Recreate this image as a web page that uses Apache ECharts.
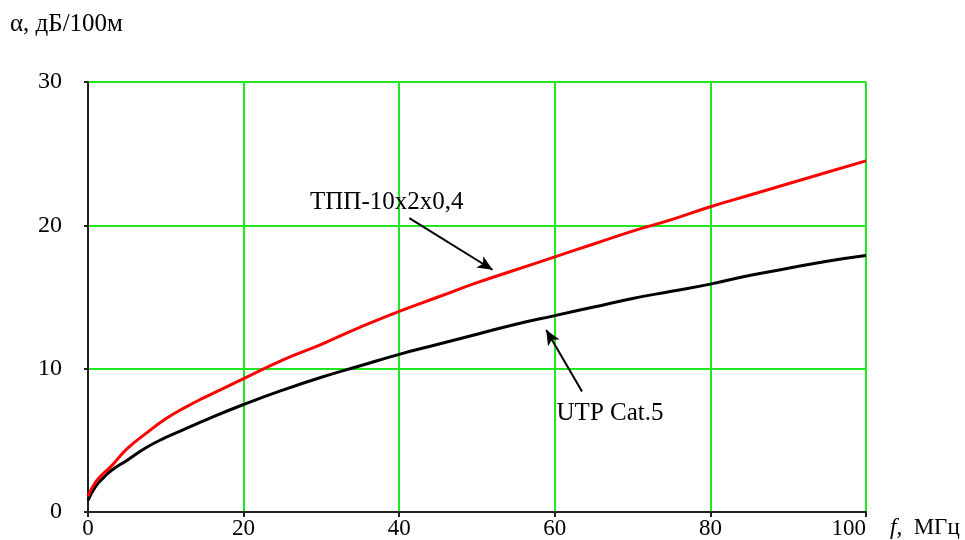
<!DOCTYPE html>
<html>
<head>
<meta charset="utf-8">
<script src="https://cdn.jsdelivr.net/npm/echarts@6/dist/echarts.min.js"></script>
<style>
  html, body { margin: 0; padding: 0; background: #fff; }
  #chart { width: 965px; height: 540px; }
</style>
</head>
<body>
<div id="chart"></div>
<script>
// Frequency, MHz
const freq = [0, 1, 2, 3, 5, 7.5, 10, 12.5, 15, 20, 25, 30, 35, 40, 45, 50, 55, 60, 65, 70, 75, 80, 85, 90, 95, 100];
// Attenuation, dB/100 m
const tppValues = [1.1, 2.1, 2.7, 3.2, 4.4, 5.5, 6.5, 7.3, 8.0, 9.3, 10.6, 11.7, 12.9, 14.0, 15.0, 16.0, 16.9, 17.8, 18.7, 19.6, 20.4, 21.3, 22.1, 22.9, 23.7, 24.5];
const utpValues = [0.8, 1.8, 2.4, 2.9, 3.6, 4.5, 5.2, 5.8, 6.4, 7.5, 8.5, 9.4, 10.2, 11.0, 11.7, 12.4, 13.1, 13.7, 14.3, 14.9, 15.4, 15.9, 16.5, 17.0, 17.5, 17.9];
const xTicks = [0, 20, 40, 60, 80, 100];
const yTicks = [0, 10, 20, 30];

// Callout text and arrows (in data coordinates)
const tppLabel = { text: 'ТПП-10x2x0,4', at: [38.4, 21.6], from: [41.3, 20.5], to: [52.0, 16.9] };
const utpLabel = { text: 'UTP Cat.5', at: [67.1, 6.9], from: [63.5, 8.4], to: [58.9, 12.7] };

const serif = '"Liberation Serif", "DejaVu Serif", serif';
const gridGreen = '#1ee81e';

const pairs = (ys) => freq.map((f, i) => [f, ys[i]]);

function callout(c) {
  return {
    markLine: {
      silent: true,
      symbol: ['none', 'arrow'],
      symbolSize: [10, 15],
      itemStyle: { color: '#000' },
      lineStyle: { color: '#000', width: 2, type: 'solid' },
      label: { show: false },
      data: [[{ coord: c.from }, { coord: c.to }]]
    },
    markPoint: {
      silent: true,
      symbol: 'circle',
      symbolSize: 0,
      label: {
        show: true, position: 'inside', formatter: c.text,
        color: '#000', fontFamily: serif, fontSize: 25
      },
      data: [{ coord: c.at }]
    }
  };
}

const chart = echarts.init(document.getElementById('chart'), null, { renderer: 'canvas' });
chart.setOption({
  backgroundColor: '#fff',
  animation: false,
  grid: { left: 88, right: 99, top: 82, bottom: 25 },
  xAxis: {
    type: 'value', min: xTicks[0], max: xTicks[xTicks.length - 1], interval: 20,
    axisLine: { show: true, onZero: false, lineStyle: { color: '#222', width: 2 } },
    axisTick: { show: true, length: 5, lineStyle: { color: '#222', width: 2 } },
    axisLabel: { color: '#000', fontFamily: serif, fontSize: 23, margin: 5, alignMaxLabel: 'right' },
    splitLine: { show: true, lineStyle: { color: gridGreen, width: 2 } }
  },
  yAxis: {
    type: 'value', min: yTicks[0], max: yTicks[yTicks.length - 1], interval: 10,
    axisLine: { show: true, onZero: false, lineStyle: { color: '#222', width: 2 } },
    axisTick: { show: true, length: 4, lineStyle: { color: '#222', width: 2 } },
    axisLabel: { color: '#000', fontFamily: serif, fontSize: 24, margin: 26 },
    splitLine: { show: true, lineStyle: { color: gridGreen, width: 2 } }
  },
  graphic: [
    {
      type: 'text', left: 10, top: 12,
      style: { text: 'α, дБ/100м', fill: '#000', font: '25px ' + serif }
    },
    {
      type: 'text', left: 890, top: 516,
      style: {
        text: '{i|f,}  МГц', fill: '#000', font: '23px ' + serif,
        rich: { i: { fontStyle: 'italic', fontFamily: serif, fontSize: 23 } }
      }
    }
  ],
  series: [
    Object.assign({
      name: 'ТПП-10x2x0,4', type: 'line', data: pairs(tppValues),
      showSymbol: false, smooth: 0.5,
      lineStyle: { color: '#ff0000', width: 3 }, z: 3
    }, callout(tppLabel)),
    Object.assign({
      name: 'UTP Cat.5', type: 'line', data: pairs(utpValues),
      showSymbol: false, smooth: 0.5,
      lineStyle: { color: '#000000', width: 3 }, z: 2
    }, callout(utpLabel))
  ]
});
</script>
</body>
</html>
